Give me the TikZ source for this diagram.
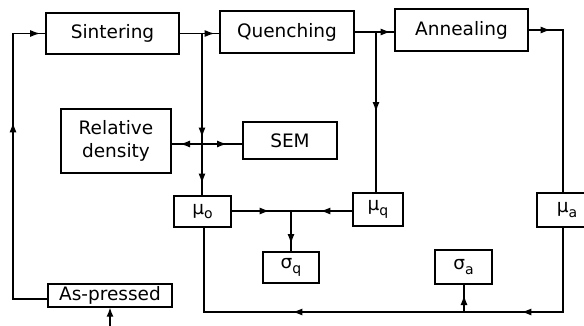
\documentclass[tikz,border=0pt]{standalone}
\usepackage{fontspec}
\setmainfont{DejaVu Sans}
\usetikzlibrary{arrows.meta,decorations.markings}
\newcommand\lowidx[1]{\raisebox{-0.25em}{\fontsize{14}{14}\selectfont #1}}
\begin{document}
\begin{tikzpicture}[x=1pt,y=-1pt,line width=1.3pt,
  box/.style={draw,rectangle,inner sep=0pt,font=\fontsize{18.5}{23}\selectfont,align=center},
  arrat/.style={postaction={decorate,decoration={markings,
    mark=at position #1 with {\arrow{Latex[length=10pt,width=7pt]}}}}},
  tipend/.style={-{Latex[length=9pt,width=7pt]}}]
\useasboundingbox (0,0) rectangle (584,325);

% process steps
\node[box,minimum width=133pt,minimum height=41pt] (sint)   at (112.5,33.5) {Sintering};
\node[box,minimum width=134pt,minimum height=42pt] (quen)   at (287,32)     {Quenching};
\node[box,minimum width=133pt,minimum height=42pt] (anneal) at (461.5,30)   {Annealing};
\node[box,minimum width=124pt,minimum height=23pt] (asp)    at (110,295.5)  {As-pressed};

% measurements
\node[box,minimum width=110pt,minimum height=64pt] (reld) at (116,141)   {Relative\\density};
\node[box,minimum width=94pt,minimum height=37pt]  (sem)  at (290,140.5) {SEM};
\node[box,minimum width=57pt,minimum height=31pt]  (muo)  at (202.5,211.5) {μ\lowidx{o}};
\node[box,minimum width=50pt,minimum height=33pt]  (muq)  at (378,209.5) {μ\lowidx{q}};
\node[box,minimum width=60pt,minimum height=34pt]  (mua)  at (567,210)   {μ\lowidx{a}};
\node[box,minimum width=56pt,minimum height=31pt]  (sigq) at (291,267.5) {σ\lowidx{q}};
\node[box,minimum width=57pt,minimum height=34pt]  (siga) at (463.5,267) {σ\lowidx{a}};

% junction and corner points
\coordinate (jS) at (202,33.5);
\coordinate (jD) at (202,144);
\coordinate (jQ) at (376,32);
\coordinate (cA) at (563,30);
\coordinate (jM) at (291,211);
\coordinate (bR) at (563,312);
\coordinate (bL) at (204,312);
\coordinate (jA) at (464,312);
\coordinate (fB) at (13,299);
\coordinate (fT) at (13,33.5);
\coordinate (inA) at (110,330);

% main process line
\draw[arrat=35pt] (sint.east) -- (sint.east -| quen.west);
\draw[arrat=36pt] (quen.east) -- (quen.east -| anneal.west);
\draw[arrat=22pt] (anneal.east) -- (cA) -- (cA |- mua.north);

% sampling after sintering
\draw[arrat=104pt,arrat=150pt] (jS) -- (jS |- muo.north);
\draw[arrat=22pt] (jD) -- (jD -| reld.east);
\draw[arrat=25pt] (jD) -- (jD -| sem.west);

% sampling after quenching
\draw[arrat=80pt] (jQ) -- (jQ |- muq.north);
\draw[arrat=38pt] (jM -| muo.east) -- (jM);
\draw[arrat=32pt] (jM -| muq.west) -- (jM);
\draw[arrat=33pt] (jM) -- (sigq.north);

% return line from annealing results
\draw[arrat=126pt,arrat=355pt] (bR |- mua.south) -- (bR) -- (bL) -- (bL |- muo.south);
\draw[arrat=17pt] (jA) -- (jA |- siga.south);

% feedback from as-pressed to sintering
\draw[arrat=211pt,arrat=327pt] (fB -| asp.west) -- (fB) -- (fT) -- (sint.west);
\draw[tipend] (inA) -- (asp.south);
\end{tikzpicture}
\end{document}
